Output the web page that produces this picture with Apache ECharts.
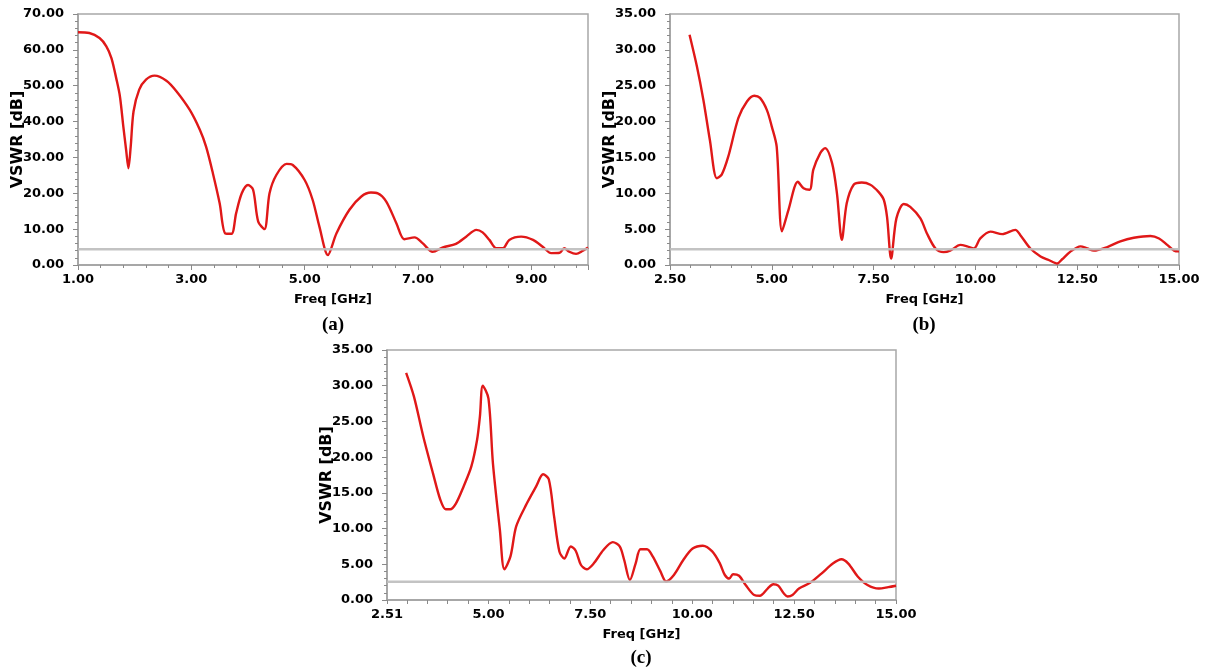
<!DOCTYPE html>
<html><head><meta charset="utf-8">
<script src="https://cdn.jsdelivr.net/npm/echarts@6/dist/echarts.min.js"></script>
<style>html,body{margin:0;padding:0;background:#fff}#c{width:1210px;height:670px}</style>
</head><body><div id="c"></div>
<script>
// ---- Data: chart (a)
const aFreq = [1.0,1.2,1.38,1.5,1.59,1.68,1.74,1.8,1.85,1.89,1.93,1.98,2.08,2.2,2.35,2.56,2.74,2.97,3.15,3.26,3.38,3.5,3.6,3.71,3.79,3.89,4.0,4.09,4.18,4.29,4.38,4.5,4.68,4.79,5.0,5.14,5.26,5.41,5.56,5.79,6.0,6.17,6.29,6.44,6.62,6.76,6.94,7.08,7.26,7.44,7.67,7.85,8.03,8.14,8.26,8.38,8.5,8.61,8.82,9.03,9.2,9.35,9.5,9.58,9.67,9.79,9.91,10.0];
const aVswr = [64.9,64.7,63.3,61.0,57.7,51.7,47.0,38.6,32.0,27.0,33.0,42.8,48.9,51.7,52.8,51.4,48.4,43.3,37.7,33.0,25.6,17.2,8.8,8.7,14.4,20.0,22.3,21.0,12.1,10.0,20.0,25.1,28.2,27.9,23.7,18.2,10.7,2.8,8.8,15.4,19.1,20.2,20.0,17.7,11.6,7.2,7.7,6.1,3.7,4.9,5.9,7.9,9.8,9.1,7.0,4.7,4.7,7.0,7.9,7.0,5.1,3.3,3.4,4.7,3.7,3.1,4.0,4.9];
const aRef = 4.4;
const aXTicks = {min:1, max:10, interval:2};
const aYTicks = {min:0, max:70, interval:10};

// ---- Data: chart (b)
const bFreq = [2.98,3.16,3.32,3.48,3.65,3.77,3.93,4.18,4.39,4.57,4.71,4.88,5.0,5.12,5.25,5.41,5.64,5.78,5.93,6.02,6.19,6.31,6.48,6.6,6.72,6.84,7.01,7.21,7.42,7.62,7.75,7.83,7.93,8.06,8.24,8.4,8.65,8.81,9.02,9.22,9.38,9.63,9.8,9.96,10.12,10.37,10.66,10.98,11.1,11.35,11.6,11.8,12.01,12.13,12.34,12.58,12.75,12.91,13.24,13.56,13.89,14.3,14.51,14.71,14.88,15.0];
const bVswr = [32.1,27.7,23.0,17.4,12.1,12.6,15.1,20.5,22.8,23.6,23.3,21.6,19.3,16.5,4.7,7.7,11.6,10.7,10.5,13.3,15.6,16.3,14.2,10.0,3.5,8.6,11.2,11.5,11.2,10.2,9.1,6.7,0.9,6.5,8.5,8.1,6.5,4.4,2.3,1.8,2.0,2.8,2.6,2.3,3.7,4.65,4.3,4.9,4.2,2.3,1.2,0.7,0.2,0.8,1.9,2.6,2.3,2.0,2.5,3.3,3.8,4.05,3.7,2.8,2.0,1.9];
const bRef = 2.2;
const bXTicks = {min:2.5, max:15, interval:2.5};
const bYTicks = {min:0, max:35, interval:5};

// ---- Data: chart (c)
const cFreq = [2.98,3.17,3.4,3.64,3.82,3.95,4.06,4.2,4.39,4.58,4.72,4.79,4.86,5.0,5.11,5.28,5.39,5.54,5.68,5.94,6.17,6.34,6.48,6.61,6.74,6.86,7.02,7.14,7.27,7.41,7.58,7.82,8.05,8.22,8.33,8.47,8.61,8.73,8.89,9.03,9.22,9.36,9.55,9.78,10.01,10.26,10.49,10.68,10.8,10.91,11.0,11.15,11.31,11.52,11.66,11.85,11.99,12.11,12.25,12.34,12.46,12.62,12.89,13.17,13.45,13.66,13.83,14.06,14.3,14.58,14.81,15.0];
const cVswr = [31.8,28.5,22.9,17.7,14.0,12.7,12.7,13.5,15.9,18.7,22.4,25.7,30.0,28.2,19.1,9.8,4.3,6.1,10.3,13.5,15.9,17.6,16.9,11.7,6.8,5.8,7.5,6.9,4.9,4.3,5.1,7.0,8.1,7.5,5.6,2.8,5.1,7.1,7.1,6.1,4.0,2.6,3.5,5.6,7.2,7.6,6.8,5.1,3.5,3.0,3.6,3.4,2.1,0.7,0.6,1.6,2.2,2.0,0.9,0.5,0.7,1.6,2.4,3.7,5.1,5.7,5.1,3.3,2.1,1.6,1.8,2.0];
const cRef = 2.55;
const cXRange = {min:2.51, max:15};
const cXLabels = [2.51,5,7.5,10,12.5,15];
const cXTickMarks = [2.51,3,3.5,4,4.5,5,5.5,6,6.5,7,7.5,8,8.5,9,9.5,10,10.5,11,11.5,12,12.5,13,13.5,14,14.5,15];
const cYTicks = {min:0, max:35, interval:5};

const panelTitles = ['(a)','(b)','(c)'];
const xName = 'Freq [GHz]';
const yName = 'VSWR [dB]';

// ---- Build
const pairs = (xs, ys) => xs.map((x,i)=>[x, ys[i]]);
const fmt = v => Number(v).toFixed(2);
const FONT = '"DejaVu Sans", "Liberation Sans", Arial';
const lblStyle = {color:'#000', fontFamily:FONT, fontWeight:'bold', fontSize:13};
const axLine = {show:true, lineStyle:{color:'#a0a0a0', width:1.5}};
const tick = {show:true, inside:false, length:5, lineStyle:{color:'#8a8a8a', width:1}};
const minor = {show:true, splitNumber:5, length:3, lineStyle:{color:'#8a8a8a', width:1}};

function xAxisCommon(gi, extra){
  return Object.assign({
    type:'value', gridIndex:gi, name:xName, nameLocation:'middle', nameGap:28, nameMoveOverlap:false,
    nameTextStyle:{color:'#000', fontFamily:FONT, fontWeight:'bold', fontSize:13},
    axisLine:axLine, axisTick:tick, minorTick:minor, splitLine:{show:false}, minorSplitLine:{show:false},
    axisLabel:Object.assign({formatter:fmt, margin:8, showMaxLabel:true}, lblStyle)
  }, extra);
}
function yAxisCommon(gi, extra){
  return Object.assign({
    type:'value', gridIndex:gi, name:yName, nameLocation:'middle', nameGap:52, nameMoveOverlap:false,
    nameTextStyle:{color:'#000', fontFamily:FONT, fontWeight:'bold', fontSize:16},
    axisLine:axLine, axisTick:tick, minorTick:minor, splitLine:{show:false}, minorSplitLine:{show:false},
    axisLabel:Object.assign({formatter:fmt, margin:14}, lblStyle)
  }, extra);
}
const red = {color:'#e01818', width:2.4};
const gray = {color:'#bdbdbd', width:2.5, opacity:0.9};

function curve(gi, data){
  return {type:'line', xAxisIndex:gi, yAxisIndex:gi, data, showSymbol:false, symbol:'none',
    smooth:0.3, lineStyle:red, z:2, silent:true, animation:false};
}
function refLine(gi, x0, x1, v){
  return {type:'line', xAxisIndex:gi, yAxisIndex:gi, data:[[x0,v],[x1,v]], showSymbol:false, symbol:'none',
    lineStyle:gray, z:3, silent:true, animation:false};
}

const gridStyle = {show:true, borderColor:'#a8a8a8', borderWidth:1.5, backgroundColor:'#fff'};
const titleFont = 'bold 19px "Liberation Serif", "Times New Roman", serif';
const option = {
  animation:false,
  backgroundColor:'#fff',
  grid:[
    Object.assign({left:78, top:14, width:510, height:251}, gridStyle),
    Object.assign({left:670, top:14, width:509, height:251}, gridStyle),
    Object.assign({left:387, top:350, width:509, height:250}, gridStyle)
  ],
  xAxis:[
    xAxisCommon(0, {min:aXTicks.min, max:aXTicks.max, interval:aXTicks.interval,
      axisLabel:Object.assign({formatter:fmt, margin:8, showMaxLabel:false}, lblStyle)}),
    xAxisCommon(1, {min:bXTicks.min, max:bXTicks.max, interval:bXTicks.interval}),
    xAxisCommon(2, {min:cXRange.min, max:cXRange.max,
      axisLabel:Object.assign({formatter:fmt, margin:8, customValues:cXLabels}, lblStyle),
      axisTick:Object.assign({}, tick, {length:4, customValues:cXTickMarks}),
      minorTick:{show:false}})
  ],
  yAxis:[
    yAxisCommon(0, {min:aYTicks.min, max:aYTicks.max, interval:aYTicks.interval}),
    yAxisCommon(1, {min:bYTicks.min, max:bYTicks.max, interval:bYTicks.interval}),
    yAxisCommon(2, {min:cYTicks.min, max:cYTicks.max, interval:cYTicks.interval})
  ],
  series:[
    curve(0, pairs(aFreq, aVswr)), refLine(0, aXTicks.min, aXTicks.max, aRef),
    curve(1, pairs(bFreq, bVswr)), refLine(1, bXTicks.min, bXTicks.max, bRef),
    curve(2, pairs(cFreq, cVswr)), refLine(2, cXRange.min, cXRange.max, cRef)
  ],
  graphic:[
    {type:'text', x:333, y:325, style:{text:panelTitles[0], x:0, y:0, align:'center', verticalAlign:'middle', fill:'#000', font:titleFont}},
    {type:'text', x:924, y:325, style:{text:panelTitles[1], x:0, y:0, align:'center', verticalAlign:'middle', fill:'#000', font:titleFont}},
    {type:'text', x:641, y:658, style:{text:panelTitles[2], x:0, y:0, align:'center', verticalAlign:'middle', fill:'#000', font:titleFont}}
  ]
};
const chart = echarts.init(document.getElementById('c'), null, {renderer:'canvas'});
chart.setOption(option);
</script>
</body></html>
